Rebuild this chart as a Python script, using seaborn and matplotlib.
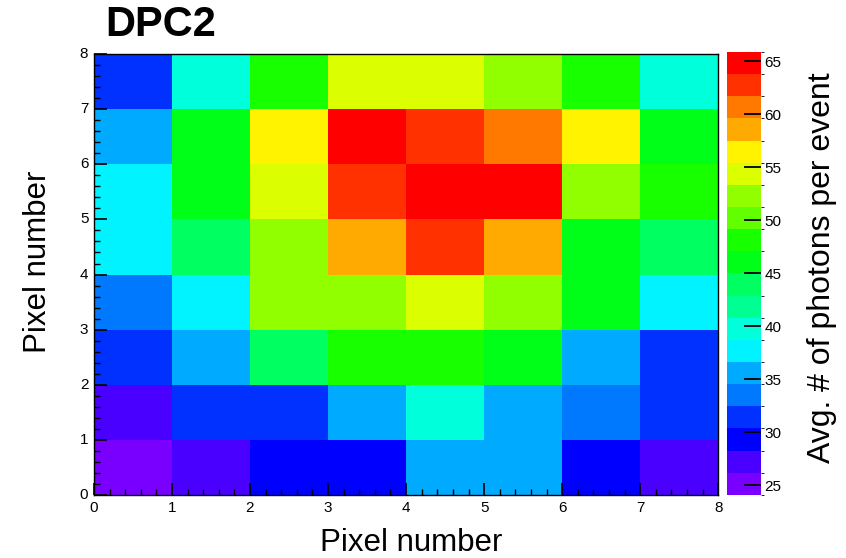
import numpy as np
import pandas as pd
import matplotlib
matplotlib.use('Agg')
import matplotlib.pyplot as plt
import matplotlib.colors as mcolors
from matplotlib.ticker import MultipleLocator
import seaborn as sns

# pixel grid values, rows are y = 0..7 (bottom to top), columns x = 0..7
row_y0 = [24.1, 27.5, 30.0, 30.0, 36.5, 35.2, 29.5, 26.5]
row_y1 = [28.0, 31.5, 31.5, 36.5, 40.5, 36.5, 34.0, 30.5]
row_y2 = [31.5, 36.5, 44.5, 47.5, 48.0, 45.0, 36.0, 32.0]
row_y3 = [34.5, 38.5, 52.5, 53.0, 55.0, 52.0, 45.5, 38.5]
row_y4 = [38.5, 44.5, 53.0, 59.5, 63.0, 59.0, 46.5, 44.0]
row_y5 = [38.5, 47.0, 55.0, 63.0, 65.9, 65.0, 52.5, 48.0]
row_y6 = [35.5, 47.0, 56.5, 65.0, 63.0, 61.0, 56.5, 47.0]
row_y7 = [31.0, 40.0, 48.0, 55.0, 55.0, 53.0, 48.0, 40.0]
pixels = list(range(8))
cbar_ticks = [25, 30, 35, 40, 45, 50, 55, 60, 65]

data = pd.DataFrame([row_y0, row_y1, row_y2, row_y3, row_y4, row_y5, row_y6, row_y7],
                    index=pixels, columns=pixels)

# ROOT "pretty" palette: 50 colours, hue 280 (violet) -> 0 (red), 20 contour levels
n_colors, n_levels = 50, 20
palette = [mcolors.hsv_to_rgb((280.0 * (1 - j / (n_colors - 1)) / 360.0, 1, 1)) for j in range(n_colors)]
level_colors = [palette[min(int((i + 0.99) * n_colors / n_levels), n_colors - 1)] for i in range(n_levels)]
cmap = mcolors.ListedColormap(level_colors)
vmin, vmax = data.values.min(), data.values.max()
norm = mcolors.BoundaryNorm(np.linspace(vmin, vmax, n_levels + 1), n_levels)

plt.rcParams['font.family'] = ['Liberation Sans', 'DejaVu Sans']

fig = plt.figure(figsize=(8.46, 5.58), dpi=100)
ax = fig.add_axes([0.111, 0.113, 0.738, 0.790])
cax = fig.add_axes([0.859, 0.113, 0.041, 0.794])

sns.heatmap(data, cmap=cmap, norm=norm, ax=ax, cbar_ax=cax, linewidths=0)

ax.set_xlim(0, 8)
ax.set_ylim(0, 8)
ax.set_xticks(range(9))
ax.set_yticks(range(9))
ax.set_xticklabels([str(i) for i in range(9)])
ax.set_yticklabels([str(i) for i in range(9)], rotation=0)
ax.xaxis.set_minor_locator(MultipleLocator(0.2))
ax.yaxis.set_minor_locator(MultipleLocator(0.2))
ax.tick_params(which='major', direction='in', length=9, width=1.2, labelsize=11, pad=4)
ax.tick_params(which='minor', direction='in', length=4.5, width=1.0)
for s in ax.spines.values():
    s.set_visible(True)
    s.set_linewidth(1.0)
    s.set_color('black')

cb = ax.collections[0].colorbar
cb.set_ticks(cbar_ticks)
cb.ax.tick_params(direction='in', length=12, width=1.3, labelsize=11, pad=2, right=True, left=False)
cb.outline.set_visible(False)

fig.text(0.124, 0.955, 'DPC2', fontsize=30, fontweight='bold', ha='left', va='center')
fig.text(0.045, 0.531, 'Pixel number', fontsize=22.5, rotation=90, ha='center', va='center')
fig.text(0.486, 0.027, 'Pixel number', fontsize=22.5, ha='center', va='center')
fig.text(0.972, 0.52, 'Avg. # of photons per event', fontsize=23, rotation=90, ha='center', va='center')

fig.savefig('out.png', dpi=100)
